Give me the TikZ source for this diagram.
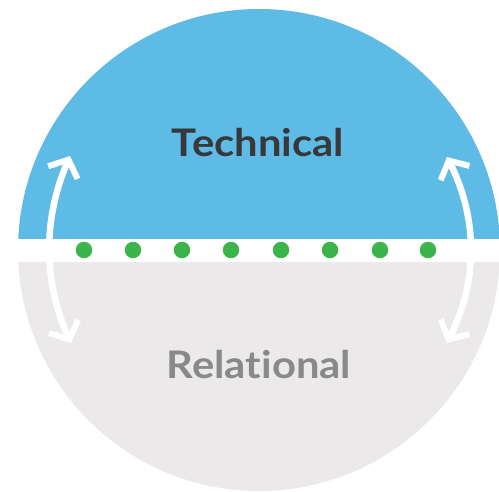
\documentclass[tikz,border=0pt]{standalone}
\usepackage{fontspec}
\setmainfont{Lato}[Ligatures={NoCommon,NoDiscretionary},FakeStretch=1.1]
\usetikzlibrary{arrows.meta}
\definecolor{techblue}{HTML}{5DBBE6}
\definecolor{relgray}{HTML}{EBE9EA}
\definecolor{dotgreen}{HTML}{3BB44B}
\definecolor{techtext}{HTML}{38383A}
\definecolor{reltext}{HTML}{898989}
\begin{document}
\begin{tikzpicture}[x=1pt,y=-1pt,
  dot/.style={circle,fill=dotgreen,minimum size=16.5pt,inner sep=0pt},
  label/.style={font=\bfseries\fontsize{38}{40}\selectfont,anchor=base,inner sep=0pt},
  arr/.style={draw=white,line width=6.5pt,{Straight Barb[length=14pt,width=32pt,line width=6pt]}-{Straight Barb[length=14pt,width=32pt,line width=6pt]}}]
\useasboundingbox (0,0) rectangle (499,491);
\begin{scope}
  \clip (0,0) rectangle (499,238);
  \fill[techblue] (259,250) circle (241pt);
\end{scope}
\begin{scope}
  \clip (0,262) rectangle (499,491);
  \fill[relgray] (259,250) circle (241pt);
\end{scope}
\node[label,text=techtext] (tech) at (258,156) {Technical};
\node[label,text=reltext] (rel) at (259,378) {Relational};
\foreach \x [count=\i] in {84,133,182,231,281,330,380,428}
  \node[dot] (d\i) at (\x,250) {};
\coordinate (lt) at (70,156);
\coordinate (lb) at (71,343);
\coordinate (rt) at (447,157);
\coordinate (rb) at (447,343);
\draw[arr] (lb) .. controls (43,281) and (43,219) .. (lt);
\draw[arr] (rb) .. controls (478,281) and (478,219) .. (rt);
\end{tikzpicture}
\end{document}
